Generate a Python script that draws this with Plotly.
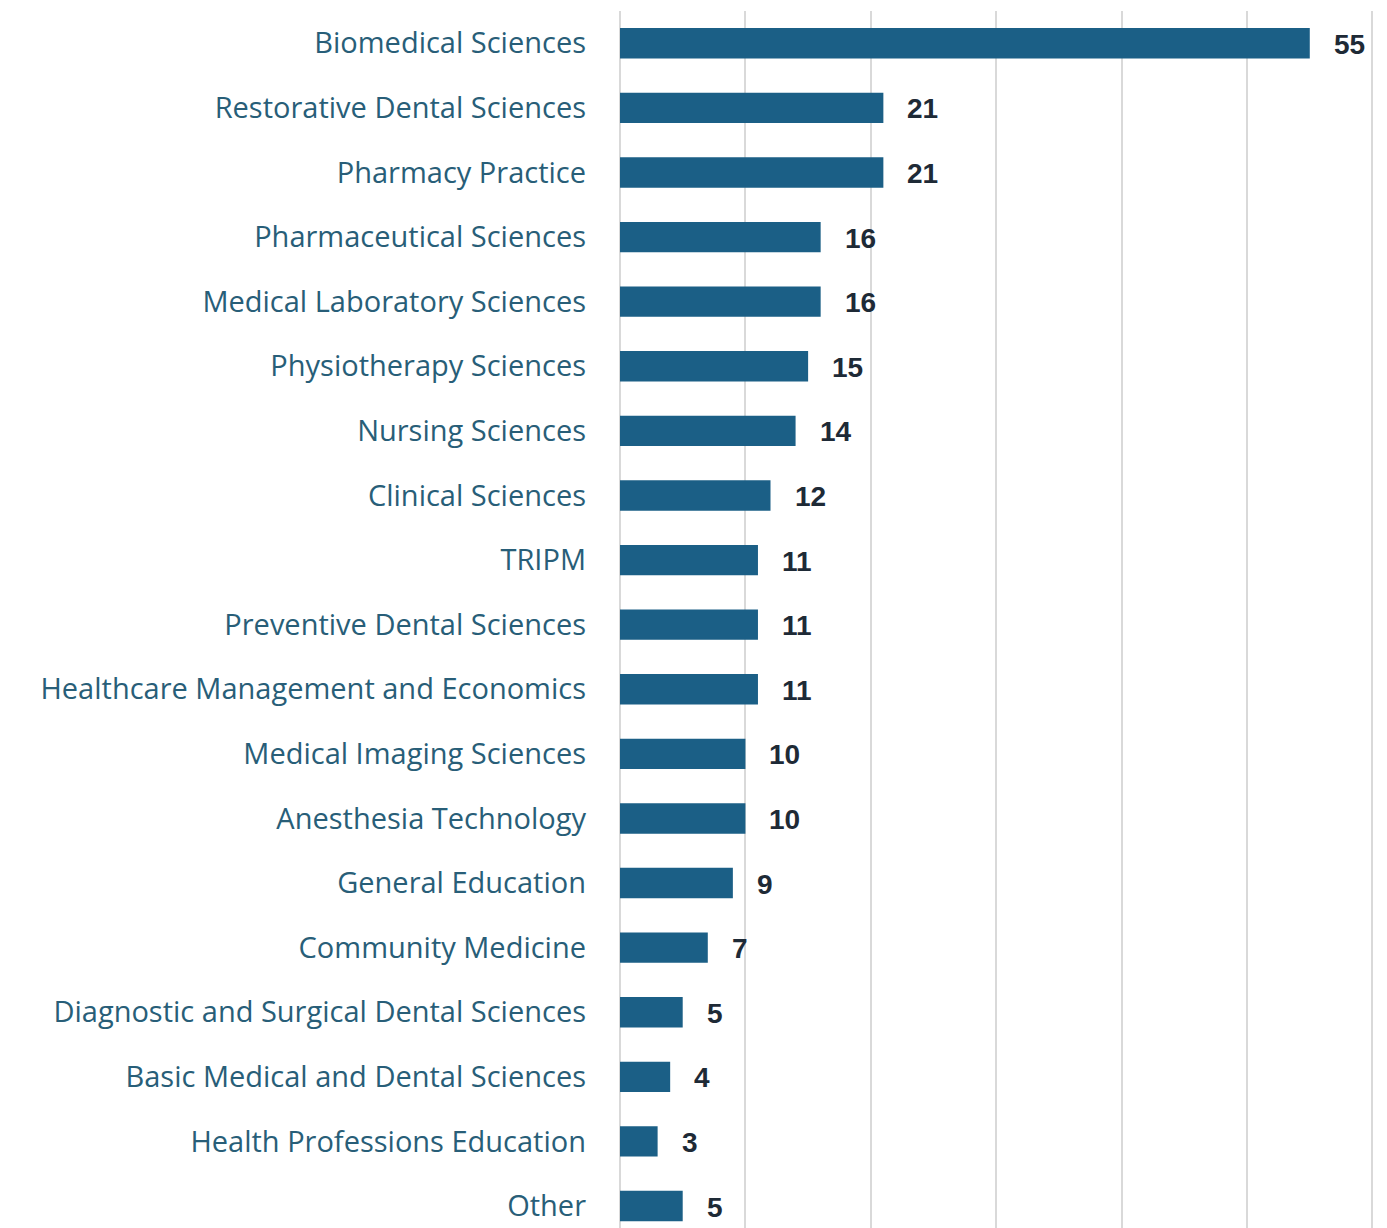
import plotly.graph_objects as go

# departments and counts, top to bottom as in the chart
departments = [
    "Biomedical Sciences",
    "Restorative Dental Sciences",
    "Pharmacy Practice",
    "Pharmaceutical Sciences",
    "Medical Laboratory Sciences",
    "Physiotherapy Sciences",
    "Nursing Sciences",
    "Clinical Sciences",
    "TRIPM",
    "Preventive Dental Sciences",
    "Healthcare Management and Economics",
    "Medical Imaging Sciences",
    "Anesthesia Technology",
    "General Education",
    "Community Medicine",
    "Diagnostic and Surgical Dental Sciences",
    "Basic Medical and Dental Sciences",
    "Health Professions Education",
    "Other",
]
counts = [55, 21, 21, 16, 16, 15, 14, 12, 11, 11, 11, 10, 10, 9, 7, 5, 4, 3, 5]

bar_color = "#1b5f86"
label_color = "#285e78"

fig = go.Figure(
    go.Bar(
        x=counts,
        y=departments,
        orientation="h",
        marker=dict(color=bar_color, line=dict(width=0)),
        width=0.47,
        hoverinfo="x+y",
    )
)

# value labels placed a little right of each bar end
for dept, val in zip(departments, counts):
    fig.add_annotation(
        x=val, y=dept, text=f"<b>{val}</b>", showarrow=False,
        xanchor="left", xshift=22, yshift=-1,
        font=dict(family="Liberation Sans, Arial", size=28, color="#1e2a36"),
    )

# page body has an 8px margin, so the figure is a bit smaller than the window
fig.update_layout(
    width=1379, height=1220,
    margin=dict(l=612, r=12, t=3, b=0, pad=0),
    plot_bgcolor="white", paper_bgcolor="white",
    showlegend=False,
    xaxis=dict(
        range=[0, 60.2], dtick=10, showticklabels=False,
        showgrid=True, gridcolor="#d9d9d9", gridwidth=2,
        zeroline=True, zerolinecolor="#d9d9d9", zerolinewidth=2,
        showline=False, fixedrange=True,
    ),
    yaxis=dict(
        type="category", range=[18.34, -0.5],
        tickfont=dict(family="Open Sans", size=29, color=label_color),
        ticks="", ticklabelstandoff=33, showgrid=False, showline=False,
    ),
)

fig.write_html("out.html")
